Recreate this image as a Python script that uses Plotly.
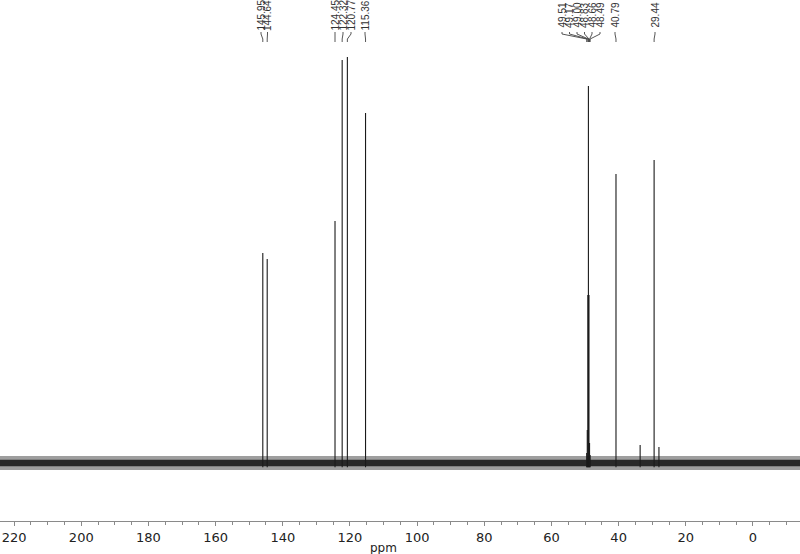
import plotly.graph_objects as go

# ---- data ----
peak_shifts = [145.95, 144.64, 124.45, 122.32, 120.77, 115.36,
               49.51, 49.34, 49.17, 49.00, 48.83, 48.66, 48.49,
               40.79, 33.6, 29.44, 28.0]
peak_heights = [210, 204, 242, 403, 406, 350,
                10, 33, 168, 377, 168, 20, 8,
                289, 18, 303, 16]

label_values = ["145.95", "144.64", "124.45", "122.32", "120.77", "115.36",
                "49.51", "49.17", "49.00", "48.83", "48.66", "48.49",
                "40.79", "29.44"]

tick_values = [220, 200, 180, 160, 140, 120, 100, 80, 60, 40, 20, 0]
noise_half_width = 7.0   # baseline noise amplitude (intensity units)

# ---- layout helpers ----
W, H = 800, 554
PLOT_H = 521
X_LEFT, X_RIGHT = 224.2, -14.0
Y_MIN, Y_MAX = -58, 463
px_per_ppm = W / (X_LEFT - X_RIGHT)


def px_to_ppm(px):
    return X_LEFT - px / px_per_ppm


def ypaper(py):
    return 1 - py / PLOT_H


# label pixel positions (layout only)
label_px = [261, 267.5, 335, 343, 351, 365,
            562, 569.5, 577, 584.5, 592, 600,
            615, 655]

fig = go.Figure()

# baseline noise band (outer, lighter)
fig.add_trace(go.Scatter(x=[X_LEFT, X_RIGHT], y=[-noise_half_width] * 2, mode="lines",
                         line=dict(width=0), showlegend=False, hoverinfo="skip"))
fig.add_trace(go.Scatter(x=[X_LEFT, X_RIGHT], y=[noise_half_width] * 2, mode="lines",
                         fill="tonexty", fillcolor="rgba(0,0,0,0.38)",
                         line=dict(width=0), showlegend=False, hoverinfo="skip"))
# inner dark core
fig.add_trace(go.Scatter(x=[X_LEFT, X_RIGHT], y=[-noise_half_width * 0.45] * 2, mode="lines",
                         line=dict(width=0), showlegend=False, hoverinfo="skip"))
fig.add_trace(go.Scatter(x=[X_LEFT, X_RIGHT], y=[noise_half_width * 0.45] * 2, mode="lines",
                         fill="tonexty", fillcolor="rgba(0,0,0,0.75)",
                         line=dict(width=0), showlegend=False, hoverinfo="skip"))

# peaks as sticks
xs, ys = [], []
for s, h in zip(peak_shifts, peak_heights):
    xs += [s, s, None]
    ys += [-noise_half_width * 0.6, h, None]
fig.add_trace(go.Scatter(x=xs, y=ys, mode="lines",
                         line=dict(color="#1a1a1a", width=1.1),
                         showlegend=False, hoverinfo="skip"))

# peak labels and connectors
for txt, lpx in zip(label_values, label_px):
    lx = px_to_ppm(lpx)
    px_peak = float(txt)
    fig.add_annotation(x=lx, xref="x", y=ypaper(15.5), yref="paper",
                       text=txt, textangle=-90, showarrow=False,
                       xanchor="center", yanchor="middle",
                       font=dict(family="Liberation Sans", size=10, color="#333"))
    pts = [(lx, 32), (lx, 34), (px_peak, 39), (px_peak, 42)]
    for (x0, y0), (x1, y1) in zip(pts[:-1], pts[1:]):
        fig.add_shape(type="line", xref="x", yref="paper",
                      x0=x0, x1=x1, y0=ypaper(y0), y1=ypaper(y1),
                      line=dict(color="#444", width=0.9))

# axis title
fig.add_annotation(x=383 / W, xref="paper", y=-(548 - PLOT_H) / PLOT_H, yref="paper",
                   text="ppm", showarrow=False, xanchor="center", yanchor="middle",
                   font=dict(family="DejaVu Sans", size=12, color="#222"))

fig.update_layout(
    width=W, height=H,
    margin=dict(l=0, r=0, t=0, b=H - PLOT_H, autoexpand=False),
    paper_bgcolor="white", plot_bgcolor="white",
    xaxis=dict(range=[X_LEFT, X_RIGHT], tickvals=tick_values,
               ticktext=[str(t) for t in tick_values],
               showgrid=False, zeroline=False, automargin=False,
               showline=True, linecolor="#8a8a8a", linewidth=1,
               ticks="outside", ticklen=4, tickcolor="#8a8a8a", tickwidth=1,
               minor=dict(dtick=5, tick0=0, ticks="outside", ticklen=2.5,
                          tickcolor="#8a8a8a", showgrid=False),
               tickfont=dict(family="DejaVu Sans", size=13, color="#222"),
               fixedrange=True),
    yaxis=dict(range=[Y_MIN, Y_MAX], visible=False, fixedrange=True),
    showlegend=False,
)

fig.write_html("out.html", config={"displayModeBar": False},
               post_script="document.body.style.margin='0';document.body.style.overflow='hidden';")
